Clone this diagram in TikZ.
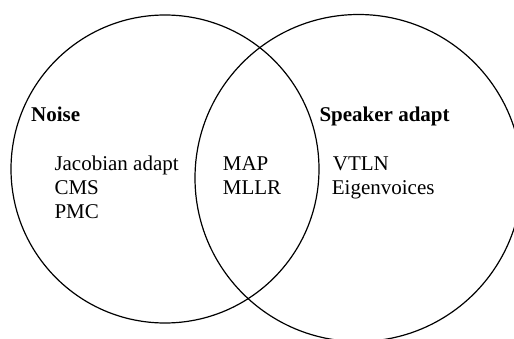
\documentclass[tikz,border=0pt]{standalone}
\usepackage{fontspec}
\setmainfont{Liberation Serif}
\begin{document}
\begin{tikzpicture}[x=1pt,y=1pt,
  setline/.style={line width=1.2pt, black},
  item/.style={anchor=base west, inner sep=0pt, font=\fontsize{21}{24}\selectfont},
  head/.style={item, font=\fontsize{21}{24}\selectfont\bfseries}]
  \useasboundingbox (0,0) rectangle (514,338);
  \clip (0,0) rectangle (514,338);
  % the two overlapping sets
  \coordinate (noiseC) at (165,169);
  \coordinate (spkC) at (358.5,160);
  \draw[setline] (noiseC) circle[radius=154];
  \draw[setline] (spkC) circle[radius=163.5];
  % set titles
  \node[head] (noise) at (31,216) {Noise};
  \node[head] (spk) at (319.3,216) {Speaker adapt};
  % noise-only methods
  \node[item] (jac) at (54.3,167.3) {Jacobian adapt};
  \node[item] (cms) at (54.3,143.3) {CMS};
  \node[item] (pmc) at (54.3,119.3) {PMC};
  % shared methods
  \node[item] (map) at (222.7,167.3) {MAP};
  \node[item] (mllr) at (222.7,143.3) {MLLR};
  % speaker-only methods
  \node[item] (vtln) at (332.7,167.3) {VTLN};
  \node[item] (eig) at (331.7,143.3) {Eigenvoices};
\end{tikzpicture}
\end{document}
